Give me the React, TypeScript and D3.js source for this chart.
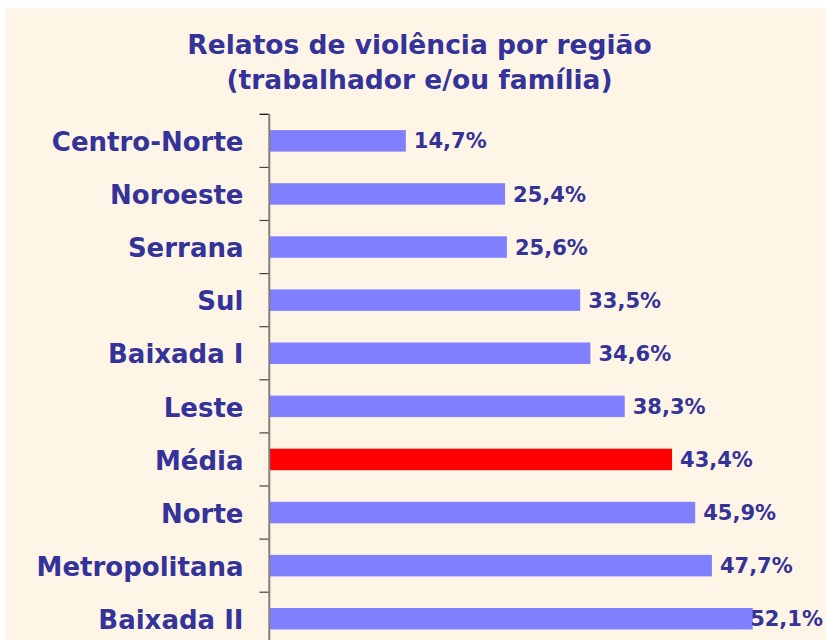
import React from "react";
import * as d3 from "d3";

const categories = ["Centro-Norte", "Noroeste", "Serrana", "Sul", "Baixada I", "Leste", "Média", "Norte", "Metropolitana", "Baixada II"];
const values = [14.7, 25.4, 25.6, 33.5, 34.6, 38.3, 43.4, 45.9, 47.7, 52.1];
const highlight = "Média";
const titleLines = ["Relatos de violência por região", "(trabalhador e/ou família)"];

const W = 826;
const H = 640;
const TEXT = "#333399";
const VAL_FS = 21;

export default function App() {
  const x = d3.scaleLinear().domain([0, 60]).range([269.5, 826]);
  const y = d3
    .scaleBand<string>()
    .domain(categories)
    .range([114.3, 114.3 + 10 * 53.1])
    .paddingInner(0.595)
    .paddingOuter(0.2975);
  const step = y.step();
  const bw = y.bandwidth();
  const fmt = (v: number) => v.toFixed(1).replace(".", ",") + "%";
  const tickYs = d3.range(categories.length + 1).map((k) => 114.3 + k * step);
  const estW = (s: string) => s.length * VAL_FS * 0.8;

  return (
    <svg
      width={W}
      height={H}
      style={{ position: "absolute", left: 0, top: 0, display: "block" }}
      fontFamily="'DejaVu Sans', Verdana, sans-serif"
    >
      <rect x={0} y={0} width={W} height={H} fill="#ffffff" />
      <rect x={6} y={8} width={W - 6} height={H - 8} fill="#FFF5E6" />
      {titleLines.map((t, i) => (
        <text
          key={t}
          x={419.5}
          y={54 + i * 34.5}
          textAnchor="middle"
          fontSize={26.5}
          fontWeight="bold"
          fill={TEXT}
        >
          {t}
        </text>
      ))}
      {categories.map((c, i) => {
        const v = values[i];
        const y0 = y(c)!;
        const label = fmt(v);
        const fits = x(v) + 8 + estW(label) <= W - 3;
        return (
          <g key={c}>
            <rect
              x={x(0) + 0.5}
              y={y0}
              width={x(v) - x(0) - 0.5}
              height={bw}
              fill={c === highlight ? "#FF0000" : "#8080FF"}
            />
            <text
              x={243.5}
              y={y0 + bw / 2 + 10.2}
              textAnchor="end"
              fontSize={26}
              fontWeight="bold"
              fill={TEXT}
            >
              {c}
            </text>
            <text
              x={fits ? x(v) + 8 : W - 3}
              y={y0 + bw / 2 + 7.6}
              textAnchor={fits ? "start" : "end"}
              fontSize={VAL_FS}
              fontWeight="bold"
              fill={TEXT}
            >
              {label}
            </text>
          </g>
        );
      })}
      {tickYs.map((ty, k) => (
        <line key={k} x1={259.5} x2={269} y1={ty} y2={ty} stroke={k === 0 ? "#000" : "#444"} strokeWidth={1.2} />
      ))}
      <line x1={269.3} x2={269.3} y1={114} y2={H} stroke="#808080" strokeWidth={2} />
    </svg>
  );
}
